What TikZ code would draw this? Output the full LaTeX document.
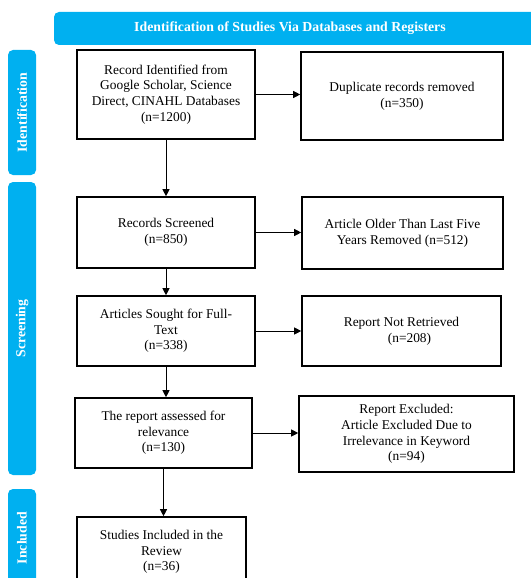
\documentclass[tikz,border=0pt]{standalone}
\usepackage{fontspec}
\setmainfont{Liberation Serif}
\usetikzlibrary{arrows.meta}
\definecolor{prismablue}{RGB}{0,176,240}

\begin{document}
\begin{tikzpicture}[x=1pt,y=-1pt,
    flowbox/.style={draw, line width=1.6pt, align=center, inner sep=2pt,
        font=\fontsize{13.4}{15.7}\selectfont},
    phasebar/.style={fill=prismablue, rounded corners=5pt, text=white,
        font=\bfseries\fontsize{13.8}{15}\selectfont},
    flowarrow/.style={-{Triangle[length=7pt,width=7pt]}, line width=0.7pt}]
                \useasboundingbox (0,0) rectangle (530,578);

                % Header and phase bars
                \fill[prismablue, rounded corners=5pt] (54,12) rectangle (545,45);
                \node[text=white, font=\bfseries\fontsize{13.8}{15}\selectfont] (header) at (290,28.5)
                    {Identification of Studies Via Databases and Registers};
                \node[phasebar, rotate=90, minimum width=125pt, minimum height=28pt] (ident) at (22,112.5) {Identification};
                \node[phasebar, rotate=90, minimum width=293pt, minimum height=28pt] (screen) at (22,328.5) {Screening};
                \node[phasebar, rotate=90, minimum width=98pt, minimum height=28pt] (incl) at (22,538) {Included};

                % Left column
                \node[flowbox, minimum width=178pt, minimum height=89pt] (found) at (166,94.5)
                    {Record Identified from\\Google Scholar, Science\\Direct, CINAHL Databases\\(n=1200)};
                \node[flowbox, minimum width=178pt, minimum height=71pt] (screened) at (166,232.5)
                    {Records Screened\\(n=850)};
                \node[flowbox, minimum width=178pt, minimum height=70pt] (sought) at (166,331)
                    {Articles Sought for Full-\\Text\\(n=338)};
                \node[flowbox, minimum width=177pt, minimum height=70pt] (assessed) at (163.5,433)
                    {The report assessed for\\relevance\\(n=130)};
                \node[flowbox, minimum width=169pt, minimum height=70pt] (included) at (161.5,552)
                    {Studies Included in the\\Review\\(n=36)};

                % Right column
                \node[flowbox, minimum width=202pt, minimum height=88pt] (dupl) at (402,96)
                    {Duplicate records removed\\(n=350)};
                \node[flowbox, minimum width=201pt, minimum height=72pt] (older) at (402.5,233)
                    {Article Older Than Last Five\\Years Removed (n=512)};
                \node[flowbox, minimum width=199pt, minimum height=70pt] (notret) at (401.5,331)
                    {Report Not Retrieved\\\hspace*{16pt}(n=208)};
                \node[flowbox, minimum width=215pt, minimum height=76pt] (excl) at (406.5,434)
                    {Report Excluded:\\Article Excluded Due to\\Irrelevance in Keyword\\(n=94)};

                % Arrows down
                \draw[flowarrow] (found.south) -- (found.south |- screened.north);
                \draw[flowarrow] (screened.south) -- (screened.south |- sought.north);
                \draw[flowarrow] (sought.south) -- (sought.south |- assessed.north);
                \draw[flowarrow] (assessed.south) -- (assessed.south |- included.north);

                % Arrows across
                \draw[flowarrow] (found.east) -- (found.east -| dupl.west);
                \draw[flowarrow] (screened.east) -- (screened.east -| older.west);
                \draw[flowarrow] (sought.east) -- (sought.east -| notret.west);
                \draw[flowarrow] (assessed.east) -- (assessed.east -| excl.west);
\end{tikzpicture}
\end{document}
